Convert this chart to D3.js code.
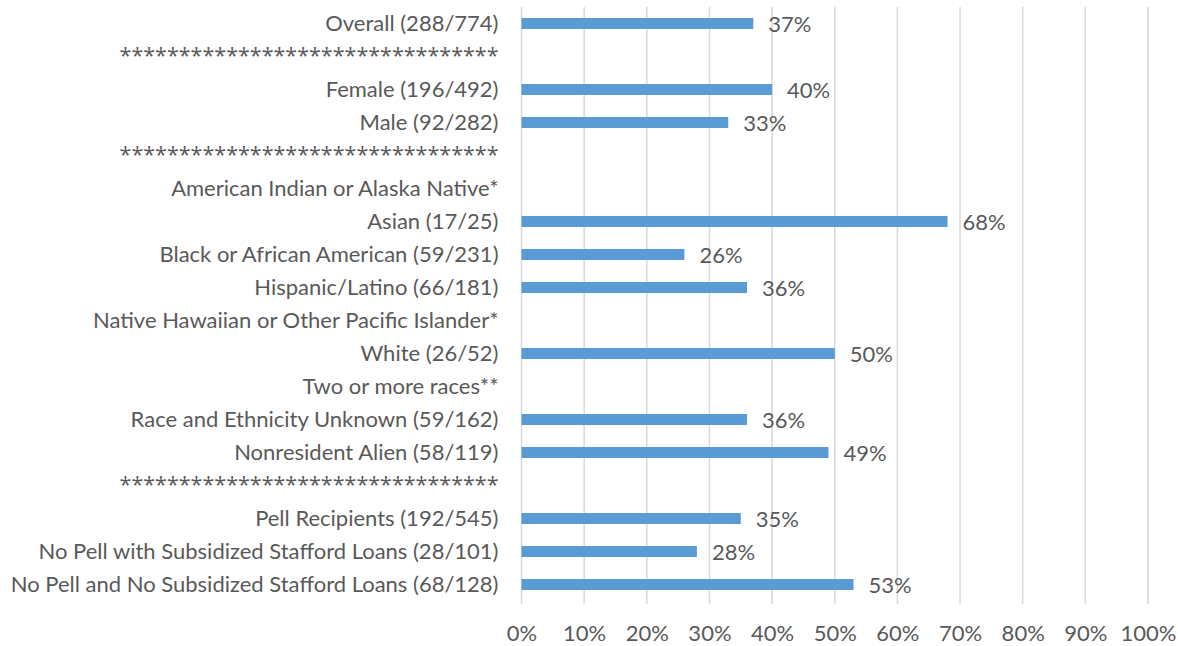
<!DOCTYPE html>
<html lang="en">
<head>
    <meta charset="UTF-8">
    <title>Graduation Rates</title>
    <script src="https://d3js.org/d3.v7.min.js"></script>
</head>
<body>
    <div id="svg-container"></div>
</body>
<style>
    *{
        padding: 0;
        margin: 0;
    }
    body{
        background: white;
    }
    svg text{
        font-family: Lato, "Open Sans", sans-serif;
        fill: #595959;
    }
</style>
<script>
    // chart values (null = no bar drawn)
    let stars = "********************************";
    let categories = [
        "Overall (288/774)",
        stars,
        "Female (196/492)",
        "Male (92/282)",
        stars,
        "American Indian or Alaska Native*",
        "Asian (17/25)",
        "Black or African American (59/231)",
        "Hispanic/Latino (66/181)",
        "Native Hawaiian or Other Pacific Islander*",
        "White (26/52)",
        "Two or more races**",
        "Race and Ethnicity Unknown (59/162)",
        "Nonresident Alien (58/119)",
        stars,
        "Pell Recipients (192/545)",
        "No Pell with Subsidized Stafford Loans (28/101)",
        "No Pell and No Subsidized Stafford Loans (68/128)"
    ];
    let rates = [0.37, null, 0.40, 0.33, null, null, 0.68, 0.26, 0.36, null, 0.50, null, 0.36, 0.49, null, 0.35, 0.28, 0.53];
    let xTicks = [0, 0.1, 0.2, 0.3, 0.4, 0.5, 0.6, 0.7, 0.8, 0.9, 1.0];

    let data = categories.map((c, i) => ({ i: i, label: c, value: rates[i] }));

    var w = 1178;
    var h = 646;
    var fs = '22px';
    var margin = {top: 7, right: 30, bottom: 45, left: 521.5};

    var svg = d3.select('#svg-container')
        .append('svg')
        .attr('width', w)
        .attr('height', h);

    let xScale = d3.scaleLinear()
        .domain([0, 1])
        .range([margin.left, 1148]);

    let yScale = d3.scaleBand()
        .domain(data.map(d => d.i))
        .range([margin.top, h - margin.bottom])
        .paddingInner(0.667)
        .paddingOuter(0.333);

    // gridlines
    svg.append('g')
        .selectAll('line')
        .data(xTicks)
        .enter()
        .append('line')
        .attr('x1', d => xScale(d))
        .attr('x2', d => xScale(d))
        .attr('y1', margin.top)
        .attr('y2', h - margin.bottom + 3)
        .attr('stroke', '#d9d9d9')
        .attr('stroke-width', 1.5);

    // x axis labels
    let xAxis = d3.axisBottom(xScale)
        .tickValues(xTicks)
        .tickFormat(d3.format('.0%'))
        .tickSize(0)
        .tickPadding(24);

    svg.append('g')
        .attr('transform', `translate(0,${h - margin.bottom})`)
        .call(xAxis)
        .call(g => g.select('.domain').remove())
        .selectAll('text')
        .style('font-size', fs)
        .style('font-family', 'Lato, sans-serif')
        .attr('fill', '#595959');

    // category labels
    svg.append('g')
        .selectAll('text')
        .data(data)
        .enter()
        .append('text')
        .attr('x', margin.left - 23)
        .attr('y', d => yScale(d.i) + yScale.bandwidth() / 2)
        .attr('dy', d => d.label === stars ? '0.32em' : '0.36em')
        .attr('text-anchor', 'end')
        .style('font-family', d => d.label === stars ? '"Open Sans", sans-serif' : null)
        .style('font-size', d => d.label === stars ? '21.5px' : fs)
        .text(d => d.label);

    let barData = data.filter(d => d.value !== null);

    svg.selectAll('rect.bar')
        .data(barData)
        .enter()
        .append('rect')
        .attr('class', 'bar')
        .attr('x', xScale(0))
        .attr('y', d => yScale(d.i))
        .attr('width', d => xScale(d.value) - xScale(0))
        .attr('height', yScale.bandwidth())
        .attr('fill', '#5b9bd5');

    svg.selectAll('text.val')
        .data(barData)
        .enter()
        .append('text')
        .attr('class', 'val')
        .attr('x', d => xScale(d.value) + 15)
        .attr('y', d => yScale(d.i) + yScale.bandwidth() / 2 + 1)
        .attr('dy', '0.36em')
        .style('font-size', fs)
        .text(d => d3.format('.0%')(d.value));
</script>
</html>
